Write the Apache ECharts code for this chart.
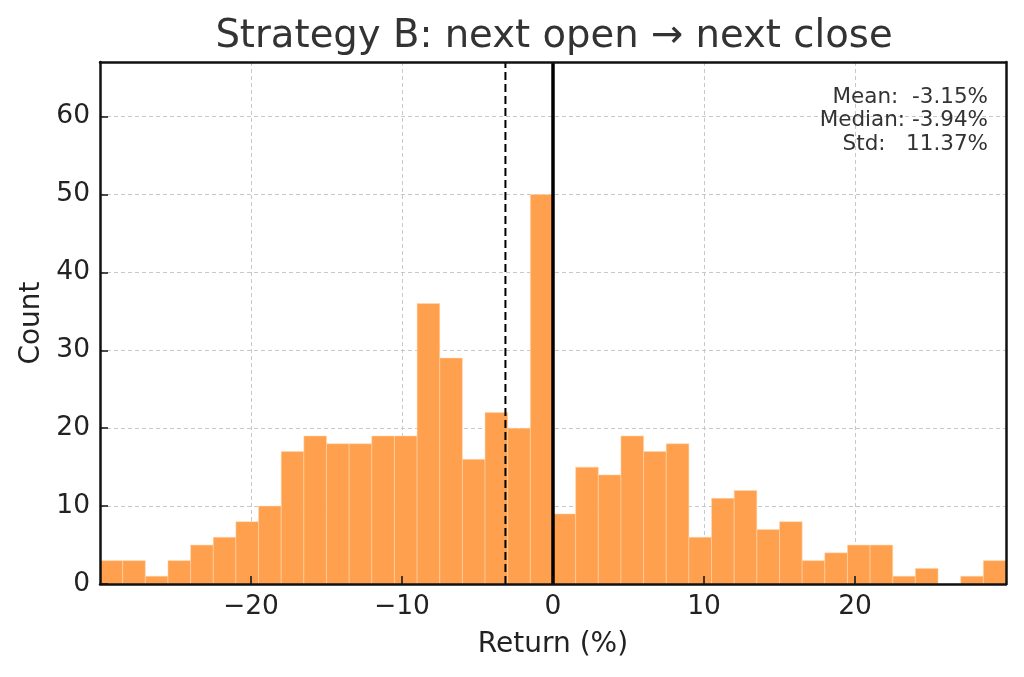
<!DOCTYPE html>
<html>
<head>
<meta charset="utf-8">
<script src="https://cdn.jsdelivr.net/npm/echarts@6/dist/echarts.min.js"></script>
<style>
html,body{margin:0;padding:0;background:#fff;}
#chart{width:1024px;height:677px;}
</style>
</head>
<body>
<div id="chart"></div>
<script>
// Histogram bins: start, width and counts
const binStart = -30;
const binWidth = 1.5;
const counts = [3, 3, 1, 3, 5, 6, 8, 10, 17, 19,
                18, 18, 19, 19, 36, 29, 16, 22, 20, 50,
                9, 15, 14, 19, 17, 18, 6, 11, 12, 7,
                8, 3, 4, 5, 5, 1, 2, 0, 1, 3];
const meanValue = -3.15;
const zeroValue = 0;
const xTicks = [-20, -10, 0, 10, 20];
const yTicks = [0, 10, 20, 30, 40, 50, 60];
const statLines = ['Mean:  -3.15%', 'Median: -3.94%', 'Std:   11.37%'];
const xMin = -30, xMax = 30, yMin = 0, yMax = 67;

const binData = counts.map((c, i) => [binStart + i * binWidth, binStart + (i + 1) * binWidth, c]);

const FONT = 'DejaVu Sans';
const chart = echarts.init(document.getElementById('chart'));

const baseX = {type: 'value', min: xMin, max: xMax, interval: 10, gridIndex: 0};
const baseY = {type: 'value', min: yMin, max: yMax, interval: 10, gridIndex: 0};
const fmtMinus = v => String(v).replace('-', '\u2212');

chart.setOption({
  animation: false,
  backgroundColor: '#fff',
  title: {
    text: 'Strategy B: next open \u2192 next close',
    left: 549, top: 12, textAlign: 'center',
    textStyle: {fontFamily: FONT, fontSize: 38.6, fontWeight: 'normal', color: '#333'}
  },
  grid: {left: 100, right: 18, top: 62, bottom: 93, containLabel: false},
  xAxis: [
    Object.assign({}, baseX, {
      position: 'bottom', z: 0,
      axisLine: {show: false}, axisTick: {show: false}, axisLabel: {show: false},
      splitLine: {show: true, lineStyle: {color: '#c8c8c8', width: 1, type: [4, 3]}}
    }),
    Object.assign({}, baseX, {
      position: 'bottom', z: 10,
      name: 'Return (%)', nameLocation: 'middle', nameGap: 47,
      nameTextStyle: {fontFamily: FONT, fontSize: 28, color: '#222'},
      axisLine: {show: true, onZero: false, lineStyle: {color: '#111', width: 2.5}},
      axisTick: {show: true, inside: true, length: 8, customValues: xTicks, lineStyle: {color: '#111', width: 1.5}},
      axisLabel: {show: true, margin: 10, customValues: xTicks, formatter: fmtMinus,
                  fontFamily: FONT, fontSize: 26.5, color: '#222'},
      splitLine: {show: false}
    }),
    Object.assign({}, baseX, {
      position: 'top', z: 10,
      axisLine: {show: true, onZero: false, lineStyle: {color: '#111', width: 2.5}},
      axisTick: {show: false}, axisLabel: {show: false}, splitLine: {show: false}
    })
  ],
  yAxis: [
    Object.assign({}, baseY, {
      position: 'left', z: 0,
      axisLine: {show: false}, axisTick: {show: false}, axisLabel: {show: false},
      splitLine: {show: true, lineStyle: {color: '#c8c8c8', width: 1, type: [4, 3]}}
    }),
    Object.assign({}, baseY, {
      position: 'left', z: 10,
      name: 'Count', nameLocation: 'middle', nameGap: 52, nameRotate: 90,
      nameTextStyle: {fontFamily: FONT, fontSize: 28, color: '#222'},
      axisLine: {show: true, onZero: false, lineStyle: {color: '#111', width: 2.5}},
      axisTick: {show: true, inside: true, length: 8, customValues: yTicks, lineStyle: {color: '#111', width: 1.5}},
      axisLabel: {show: true, margin: 10, customValues: yTicks,
                  fontFamily: FONT, fontSize: 26.5, color: '#222'},
      splitLine: {show: false}
    }),
    Object.assign({}, baseY, {
      position: 'right', z: 10,
      axisLine: {show: true, onZero: false, lineStyle: {color: '#111', width: 2.5}},
      axisTick: {show: false}, axisLabel: {show: false}, splitLine: {show: false}
    })
  ],
  graphic: statLines.map((line, i) => ({
    type: 'text', right: 36, top: 86 + i * 23.5, z: 20,
    style: {
      text: line,
      font: '21.5px "' + FONT + '"',
      fill: '#333'
    }
  })),
  series: [
    {
      type: 'custom', xAxisIndex: 0, yAxisIndex: 0, z: 2, clip: true,
      data: binData,
      encode: {x: [0, 1], y: 2},
      renderItem: function (params, api) {
        const p0 = api.coord([api.value(0), api.value(2)]);
        const p1 = api.coord([api.value(1), 0]);
        return {
          type: 'rect',
          shape: {x: p0[0], y: p0[1], width: p1[0] - p0[0], height: p1[1] - p0[1]},
          style: {fill: '#FEA04E', stroke: 'rgba(255,215,175,0.9)', lineWidth: 0.6}
        };
      }
    },
    {
      type: 'line', xAxisIndex: 0, yAxisIndex: 0, z: 5, symbol: 'none',
      data: [[meanValue, yMin], [meanValue, yMax]],
      lineStyle: {color: '#000', width: 2, type: [8, 4]}
    },
    {
      type: 'line', xAxisIndex: 0, yAxisIndex: 0, z: 5, symbol: 'none',
      data: [[zeroValue, yMin], [zeroValue, yMax]],
      lineStyle: {color: '#000', width: 3.5}
    }
  ]
});
</script>
</body>
</html>
